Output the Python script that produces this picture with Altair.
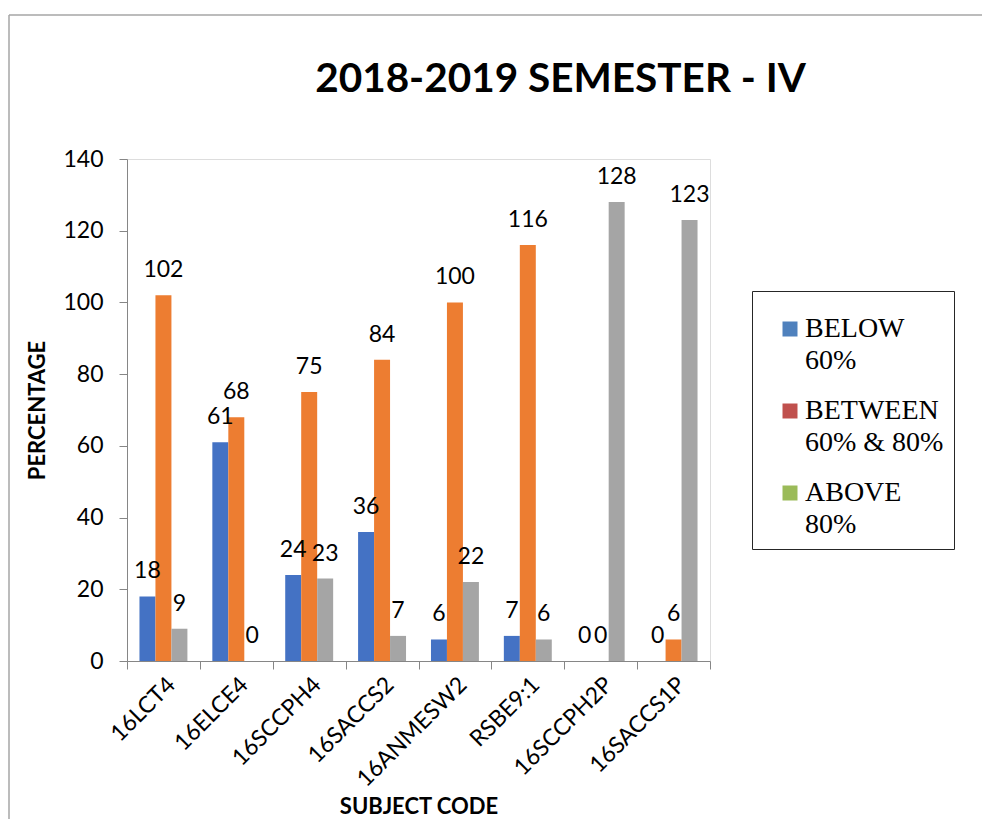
import altair as alt
import pandas as pd

subjects = ["16LCT4", "16ELCE4", "16SCCPH4", "16SACCS2", "16ANMESW2", "RSBE9:1", "16SCCPH2P", "16SACCS1P"]
below_60 = [18, 61, 24, 36, 6, 7, 0, 0]
between_60_80 = [102, 68, 75, 84, 100, 116, 0, 6]
above_80 = [9, 0, 23, 7, 22, 6, 128, 123]

series_names = ["BELOW|60%", "BETWEEN|60% & 80%", "ABOVE|80%"]
bar_colors = ["#4472C4", "#ED7D31", "#A5A5A5"]
legend_colors = ["#4F81BD", "#C0504D", "#9BBB59"]

rows = []
for i, s in enumerate(subjects):
    for name, vals in zip(series_names, [below_60, between_60_80, above_80]):
        rows.append({"subject": s, "series": name, "legend_item": name, "value": vals[i]})
df = pd.DataFrame(rows)

FS = 23

x_enc = alt.X("subject:N", sort=subjects,
              scale=alt.Scale(paddingInner=0, paddingOuter=0),
              axis=alt.Axis(title="SUBJECT CODE", labelAngle=-45, labelFont="Lato",
                            labelFontSize=FS, labelColor="#000000", labelPadding=4,
                            tickBand="extent", tickSize=8, tickColor="#868686",
                            domainColor="#868686", titleFont="Lato", titleFontSize=22,
                            titleFontWeight="bold", titleColor="#000000", titlePadding=5))
xoff = alt.XOffset("series:N", sort=series_names,
                   scale=alt.Scale(paddingInner=0, paddingOuter=0.78))
y_enc = alt.Y("value:Q",
              scale=alt.Scale(domain=[0, 140], nice=False),
              axis=alt.Axis(title="PERCENTAGE", values=[0, 20, 40, 60, 80, 100, 120, 140],
                            grid=False, labelFont="Lato", labelFontSize=FS, labelColor="#000000",
                            labelPadding=16, tickSize=8, tickColor="#868686", domainColor="#868686",
                            titleFont="Lato", titleFontSize=22, titleFontWeight="bold",
                            titleColor="#000000", titlePadding=13))

bars = alt.Chart(df).mark_bar().encode(
    x=x_enc, xOffset=xoff, y=y_enc,
    color=alt.Color("series:N", sort=series_names,
                    scale=alt.Scale(range=bar_colors), legend=None),
)

labels = alt.Chart(df).mark_text(font="Lato", fontSize=FS, baseline="alphabetic", dy=-18,
                                 color="#000000").encode(
    x=alt.X("subject:N", sort=subjects), xOffset=alt.XOffset("series:N", sort=series_names),
    y="value:Q", text="value:Q",
)

legend_layer = alt.Chart(df).transform_filter("datum.value < 0").mark_square().encode(
    x=alt.X("subject:N", sort=subjects), y="value:Q",
    fill=alt.Fill("legend_item:N", sort=series_names,
                  scale=alt.Scale(domain=series_names, range=legend_colors),
                  legend=alt.Legend(orient="none", legendX=625, legendY=132, title=" ",
                                    titleFontSize=6, titlePadding=8,
                                    labelExpr="split(datum.label, '|')",
                                    labelFont="Liberation Serif", labelFontSize=28,
                                    labelColor="#000000", labelBaseline="middle",
                                    symbolType="square", symbolSize=225, symbolStrokeWidth=0,
                                    symbolOpacity=1, labelOffset=1, rowPadding=22,
                                    padding=10, strokeColor="#262626", fillColor="#FFFFFF",
                                    symbolOffset=14)),
)

frame_df = pd.DataFrame({"k": [0]})
border_left = alt.Chart(frame_df).mark_rule(color="#A6A6A6", strokeWidth=1.5).encode(
    x=alt.value(-118), y=alt.value(-144), y2=alt.value(700))
border_top = alt.Chart(frame_df).mark_rule(color="#A6A6A6", strokeWidth=1.5).encode(
    x=alt.value(-118), x2=alt.value(900), y=alt.value(-144))

chart = alt.layer(bars, labels, legend_layer, border_left, border_top).properties(
    width=583, height=502,
    autosize=alt.AutoSizeParams(type="none"),
    padding={"left": 119, "top": 151, "right": 272, "bottom": 158},
    title=alt.TitleParams("2018-2019 SEMESTER - IV", font="Lato", fontSize=40.5,
                          fontWeight="bold", color="#000000", anchor="middle",
                          frame="group", dx=142, dy=118, offset=0, baseline="alphabetic"),
).configure_view(stroke="transparent").configure(
    style={"guide-label": {"lineHeight": 32}}
)

chart.save("out.html", embed_options={"renderer": "svg", "actions": False})
